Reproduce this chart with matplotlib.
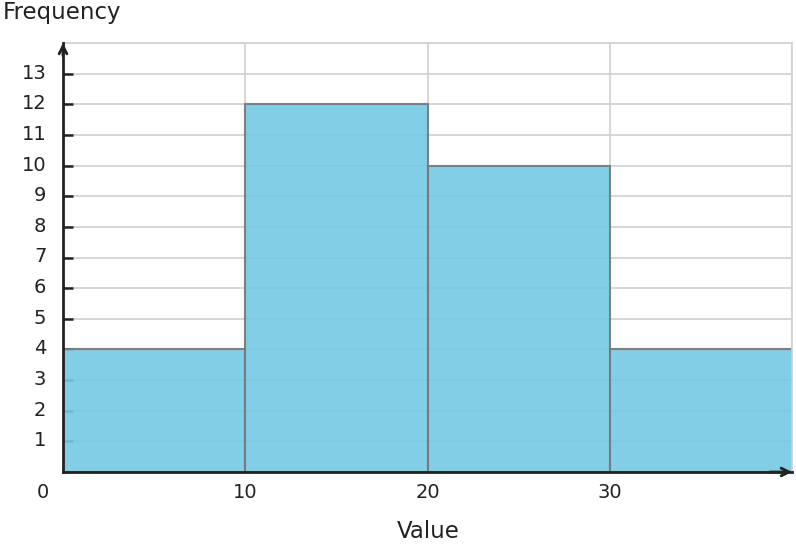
import matplotlib.pyplot as plt
import numpy as np
from matplotlib.transforms import offset_copy, ScaledTranslation

# dados
bin_edges = [0, 10, 20, 30, 40]
frequencias = [4, 12, 10, 4]
yticks = list(range(1, 14))
xticks = [10, 20, 30]

fig = plt.figure(figsize=(7.96, 5.48), dpi=100)
ax = fig.add_axes([63/796, 1 - 472/548, (792 - 63)/796, (472 - 43)/548])

larguras = np.diff(bin_edges)
ax.bar(bin_edges[:-1], frequencias, width=larguras, align='edge',
       color='#74C9E5', alpha=0.9, edgecolor='#777777', linewidth=1.5, zorder=2)

ax.set_xlim(0, 40)
ax.set_ylim(0, 14)
ax.set_axisbelow(True)

# grade
ax.set_yticks(range(1, 15))
ax.set_yticklabels([str(v) for v in yticks] + [''])
ax.set_xticks(xticks + [40])
ax.set_xticklabels([str(v) for v in xticks] + [''])
ax.grid(True, color='#d3d3d3', linewidth=1.3, zorder=0)

ax.tick_params(axis='y', direction='in', length=7, width=1.8, color='#222222',
               pad=12, labelsize=14, labelcolor='#222222')
ax.tick_params(axis='x', length=0, pad=8, labelsize=14, labelcolor='#222222')
ax.yaxis.get_major_ticks()[-1].tick1line.set_visible(False)

# sobe um pouco os rotulos do eixo y
desloc = ScaledTranslation(0, 2.5/100, fig.dpi_scale_trans)
for rot in ax.get_yticklabels():
    rot.set_transform(rot.get_transform() + desloc)

for lado in ['top', 'right']:
    ax.spines[lado].set_color('#d3d3d3')
    ax.spines[lado].set_linewidth(1.3)
for lado in ['left', 'bottom']:
    ax.spines[lado].set_color('#222222')
    ax.spines[lado].set_linewidth(2)
    ax.spines[lado].set_zorder(3)

# setas dos eixos
ax.annotate('', xy=(0, 1.0), xytext=(0, 0.97), xycoords='axes fraction',
            arrowprops=dict(arrowstyle='->', color='#222222', lw=2,
                            mutation_scale=14, shrinkA=0, shrinkB=0), zorder=4)
ax.annotate('', xy=(1.0, 0), xytext=(0.97, 0), xycoords='axes fraction',
            arrowprops=dict(arrowstyle='->', color='#222222', lw=2,
                            mutation_scale=14, shrinkA=0, shrinkB=0), zorder=4)

# rotulo do zero na origem
trans = offset_copy(ax.transAxes, fig=fig, x=-20, y=-21, units='dots')
ax.text(0, 0, '0', transform=trans, ha='center', va='center',
        fontsize=14, color='#222222')

fig.text(3/796, 1 - 13/548, 'Frequency', ha='left', va='center',
         fontsize=16.5, color='#222222')
fig.text(428/796, 1 - 531/548, 'Value', ha='center', va='center',
         fontsize=16.5, color='#222222')

fig.savefig('out.png', dpi=100)
